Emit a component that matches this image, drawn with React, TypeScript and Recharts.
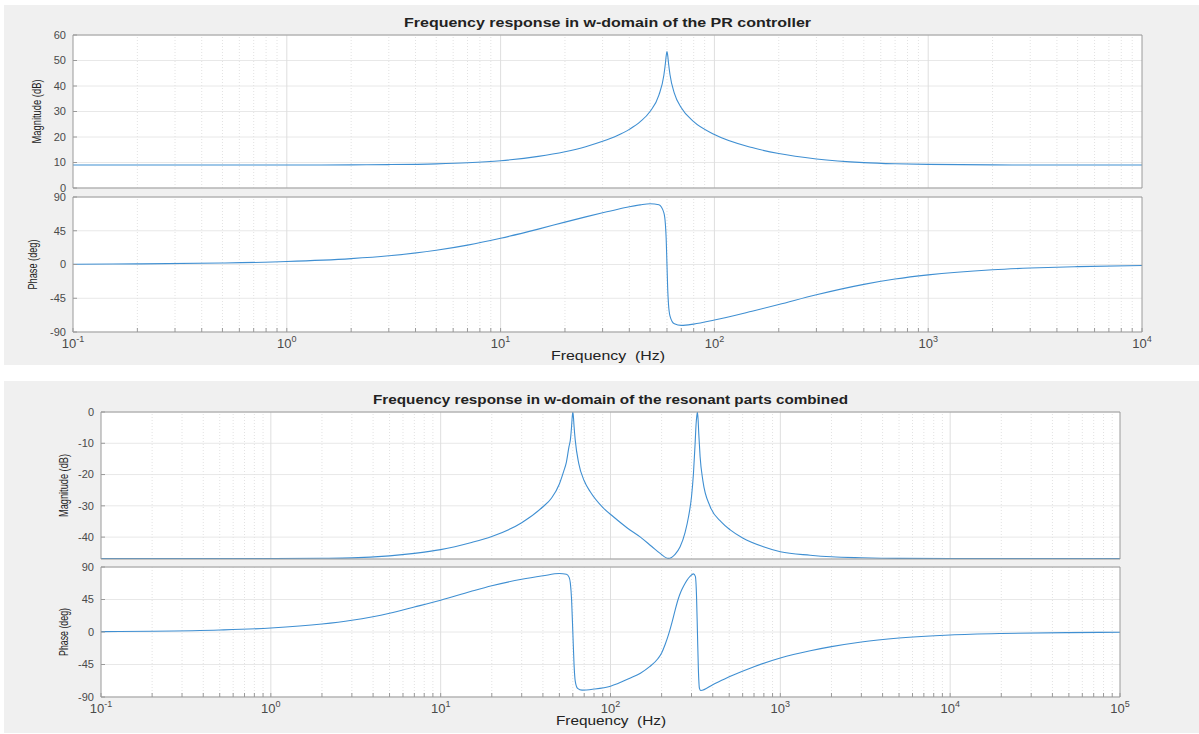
import { CartesianGrid, Line, LineChart, ReferenceLine, XAxis, YAxis } from "recharts";

const W = 1199;
const H = 734;
const FONT = '"Liberation Sans", Arial, Helvetica, sans-serif';
const LINE = "#3f8fd2";
const AXIS = "#9a9a9a";
const TEXT = "#4a4a4a";

// PR controller, frequency in Hz
const prFreq = [0.1, 0.2, 0.5, 1, 2, 3, 5, 7, 10, 15, 20, 25, 30, 35, 40, 45, 50, 55, 58, 59, 59.5, 60, 60.5, 61, 62, 65, 70, 80, 100, 150, 200, 300, 500, 700, 1000, 2000, 3000, 5000, 10000];
const prMag = [9.0, 9.0, 9.0, 9.02, 9.08, 9.18, 9.48, 9.9, 10.7, 12.4, 14.25, 16.2, 18.3, 20.5, 23.0, 26.0, 30.0, 36.4, 44.1, 48.9, 51.8, 53.5, 51.9, 49.0, 44.4, 37.1, 31.5, 26.0, 21.0, 15.85, 13.5, 11.4, 9.96, 9.5, 9.25, 9.07, 9.03, 9.01, 9.0];
const prPhase = [0.39, 0.78, 1.95, 3.9, 7.8, 11.6, 18.9, 25.8, 35.0, 47.2, 56.5, 63.5, 69.0, 73.4, 76.9, 79.5, 81.1, 79.6, 69.2, 53.5, 34.1, 0, -34, -53, -68.7, -79.1, -81.2, -79.5, -74.1, -62.3, -53.4, -40.4, -26.5, -19.4, -13.8, -7.0, -4.67, -2.8, -1.4];

// resonant parts combined
const resMagFreq = [0.1, 1, 2, 3, 5, 7, 10, 15, 20, 30, 40, 45, 50, 53, 55, 57, 58, 59, 59.5, 60, 60.5, 61, 62, 65, 70, 76, 90, 104, 125, 150, 175, 196, 219, 240, 257, 275, 288, 300, 308, 315, 319, 322, 325, 328, 331, 337, 350, 386, 450, 507, 600, 795, 1000, 1500, 2000, 3000, 5000, 10000, 100000];
const resMag = [-46.85, -46.83, -46.76, -46.65, -46.0, -45.2, -44.0, -41.8, -39.8, -35.4, -30.3, -27.5, -23, -19, -16, -11, -9, -4.6, -1.7, 0, -1.6, -4.5, -9, -16.4, -22, -25.5, -30.5, -33.5, -37, -40, -43, -45.2, -46.8, -45.5, -43.1, -38.5, -33.5, -27, -19.6, -10, -4, -1.4, 0, -2.5, -7, -14.3, -22, -30.2, -35.2, -37.7, -40.3, -43.1, -44.7, -45.8, -46.3, -46.6, -46.8, -46.85, -46.85];
const resPhaseFreq = [0.1, 0.2, 0.5, 1, 2, 3, 5, 7, 10, 15, 20, 30, 40, 50, 55, 57, 58, 59, 60, 61, 62, 64, 68, 80, 100, 130, 150, 170, 190, 200, 210, 220, 230, 240, 250, 260, 270, 294, 308, 316, 321, 325, 329, 334, 340, 400, 500, 700, 1000, 1500, 2000, 3000, 5000, 10000, 20000, 50000, 100000];
const resPhase = [0.5, 1.1, 2.8, 5.5, 11, 16.3, 26, 34.6, 44, 56, 64, 73, 77.8, 81, 80, 76, 68, 45, 0, -45, -68, -78, -80.5, -79, -75, -64, -57, -48, -37, -29, -17, -3, 13, 30, 45, 56, 64, 77, 80.5, 77, 50, 0, -50, -78, -81, -73, -62, -48, -36, -26, -20.3, -13.8, -8.4, -4.2, -2.1, -0.85, -0.42];

const prDecades = [0.1, 1, 10, 100, 1000, 10000];
const prExps = ["-1", "0", "1", "2", "3", "4"];
const resDecades = [0.1, 1, 10, 100, 1000, 10000, 100000];
const resExps = ["-1", "0", "1", "2", "3", "4", "5"];
const minorSteps = [2, 3, 4, 5, 6, 7, 8, 9];

const prMagTicks = [0, 10, 20, 30, 40, 50, 60];
const resMagTicks = [-40, -30, -20, -10, 0];
const phaseTicks = [-90, -45, 0, 45, 90];

const rows = (fs: number[], vs: number[]) => fs.map((f, i) => ({ f, v: vs[i] }));

type PlotProps = {
  data: { f: number; v: number }[];
  x0: number;
  x1: number;
  y0: number;
  y1: number;
  yDomain: [number, number];
  yTicks: number[];
  decades: number[];
  exps: string[];
  showX: boolean;
};

function BodePlot({ data, x0, x1, y0, y1, yDomain, yTicks, decades, exps, showX }: PlotProps) {
  const topPad = 9;
  const bottomPad = showX ? 30 : 9;
  const minors = decades
    .slice(0, -1)
    .flatMap((d) => minorSteps.map((m) => Number((d * m).toPrecision(3))));
  const allTicks = [...decades, ...minors].sort((a, b) => a - b);
  const domain: [number, number] = [decades[0], decades[decades.length - 1]];

  const XTick = (props: any) => {
    const { x, y, payload } = props;
    const idx = decades.indexOf(payload.value);
    if (idx < 0) return <g />;
    return (
      <text x={x} y={y + 7.5} textAnchor="middle" fill={TEXT} fontSize={13} fontFamily={FONT}>
        10
        <tspan dy={-6} fontSize={9}>
          {exps[idx]}
        </tspan>
      </text>
    );
  };

  return (
    <div style={{ position: "absolute", left: 0, top: y0 - topPad }}>
      <LineChart
        width={W}
        height={topPad + (y1 - y0) + bottomPad}
        data={data}
        margin={{ top: topPad - 4, right: 0, bottom: 0, left: 0 }}
      >
        <CartesianGrid vertical={false} stroke="#e8e8e8" fill="#ffffff" />
        {minors.map((m) => (
          <ReferenceLine key={"m" + m} x={m} stroke="#e2e2e2" strokeDasharray="1 2" />
        ))}
        {decades.slice(1, -1).map((d) => (
          <ReferenceLine key={"d" + d} x={d} stroke="#dedede" />
        ))}
        <XAxis
          dataKey="f"
          type="number"
          scale="log"
          domain={domain}
          allowDataOverflow
          ticks={allTicks}
          interval={0}
          height={bottomPad}
          tickSize={-4}
          tickMargin={12}
          axisLine={{ stroke: AXIS }}
          tickLine={{ stroke: AXIS }}
          tick={showX ? <XTick /> : false}
        />
        <XAxis
          xAxisId="top"
          orientation="top"
          dataKey="f"
          type="number"
          scale="log"
          domain={domain}
          allowDataOverflow
          ticks={allTicks}
          interval={0}
          height={4}
          tickSize={-4}
          axisLine={{ stroke: AXIS }}
          tickLine={{ stroke: AXIS }}
          tick={false}
        />
        <YAxis
          domain={yDomain}
          allowDataOverflow
          ticks={yTicks}
          interval={0}
          width={x0}
          tickSize={-4}
          tickMargin={11}
          axisLine={{ stroke: AXIS }}
          tickLine={{ stroke: AXIS }}
          tick={{ fill: TEXT, fontSize: 11, fontFamily: FONT }}
        />
        <YAxis
          yAxisId="right"
          orientation="right"
          domain={yDomain}
          allowDataOverflow
          ticks={yTicks}
          interval={0}
          width={W - x1}
          tickSize={-4}
          axisLine={{ stroke: AXIS }}
          tickLine={{ stroke: AXIS }}
          tick={false}
        />
        <Line
          type="monotone"
          dataKey="v"
          stroke={LINE}
          strokeWidth={1.1}
          dot={false}
          isAnimationActive={false}
        />
      </LineChart>
    </div>
  );
}

function Labels() {
  const t = { fontFamily: FONT, fill: "#222" };
  const yl = (x: number, y: number, len: number, s: string) => (
    <text
      transform={`translate(${x},${y}) rotate(-90)`}
      textAnchor="middle"
      fontSize={13}
      textLength={len}
      lengthAdjust="spacingAndGlyphs"
      {...t}
    >
      {s}
    </text>
  );
  return (
    <svg width={W} height={H} style={{ position: "absolute", left: 0, top: 0 }}>
      <text x={607.5} y={27} textAnchor="middle" fontSize={13} fontWeight="bold" textLength={407} lengthAdjust="spacingAndGlyphs" {...t}>
        Frequency response in w-domain of the PR controller
      </text>
      <text x={610.5} y={404} textAnchor="middle" fontSize={13} fontWeight="bold" textLength={475} lengthAdjust="spacingAndGlyphs" {...t}>
        Frequency response in w-domain of the resonant parts combined
      </text>
      {yl(41, 111.5, 64, "Magnitude (dB)")}
      {yl(37, 264.5, 50, "Phase (deg)")}
      {yl(68, 485.5, 63, "Magnitude (dB)")}
      {yl(68, 632, 48, "Phase (deg)")}
      <text x={608} y={360} textAnchor="middle" fontSize={12} textLength={114} lengthAdjust="spacingAndGlyphs" style={{ whiteSpace: "pre" }} {...t}>
        Frequency  (Hz)
      </text>
      <text x={611} y={725} textAnchor="middle" fontSize={12} textLength={110} lengthAdjust="spacingAndGlyphs" style={{ whiteSpace: "pre" }} {...t}>
        Frequency  (Hz)
      </text>
    </svg>
  );
}

export default function App() {
  return (
    <div style={{ position: "absolute", left: 0, top: 0, width: W, height: H, background: "#ffffff", overflow: "hidden" }}>
      <div style={{ position: "absolute", left: 4, top: 5, width: W - 4, height: 360, background: "#f0f0f0" }} />
      <div style={{ position: "absolute", left: 4, top: 381, width: W - 4, height: 352, background: "#f0f0f0" }} />
      <Labels />
      <BodePlot data={rows(prFreq, prMag)} x0={73} x1={1142} y0={35} y1={188} yDomain={[0, 60]} yTicks={prMagTicks} decades={prDecades} exps={prExps} showX={false} />
      <BodePlot data={rows(prFreq, prPhase)} x0={73} x1={1142} y0={197} y1={332} yDomain={[-90, 90]} yTicks={phaseTicks} decades={prDecades} exps={prExps} showX />
      <BodePlot data={rows(resMagFreq, resMag)} x0={101} x1={1120} y0={412} y1={559} yDomain={[-47, 0]} yTicks={resMagTicks} decades={resDecades} exps={resExps} showX={false} />
      <BodePlot data={rows(resPhaseFreq, resPhase)} x0={101} x1={1120} y0={567} y1={697} yDomain={[-90, 90]} yTicks={phaseTicks} decades={resDecades} exps={resExps} showX />
    </div>
  );
}
